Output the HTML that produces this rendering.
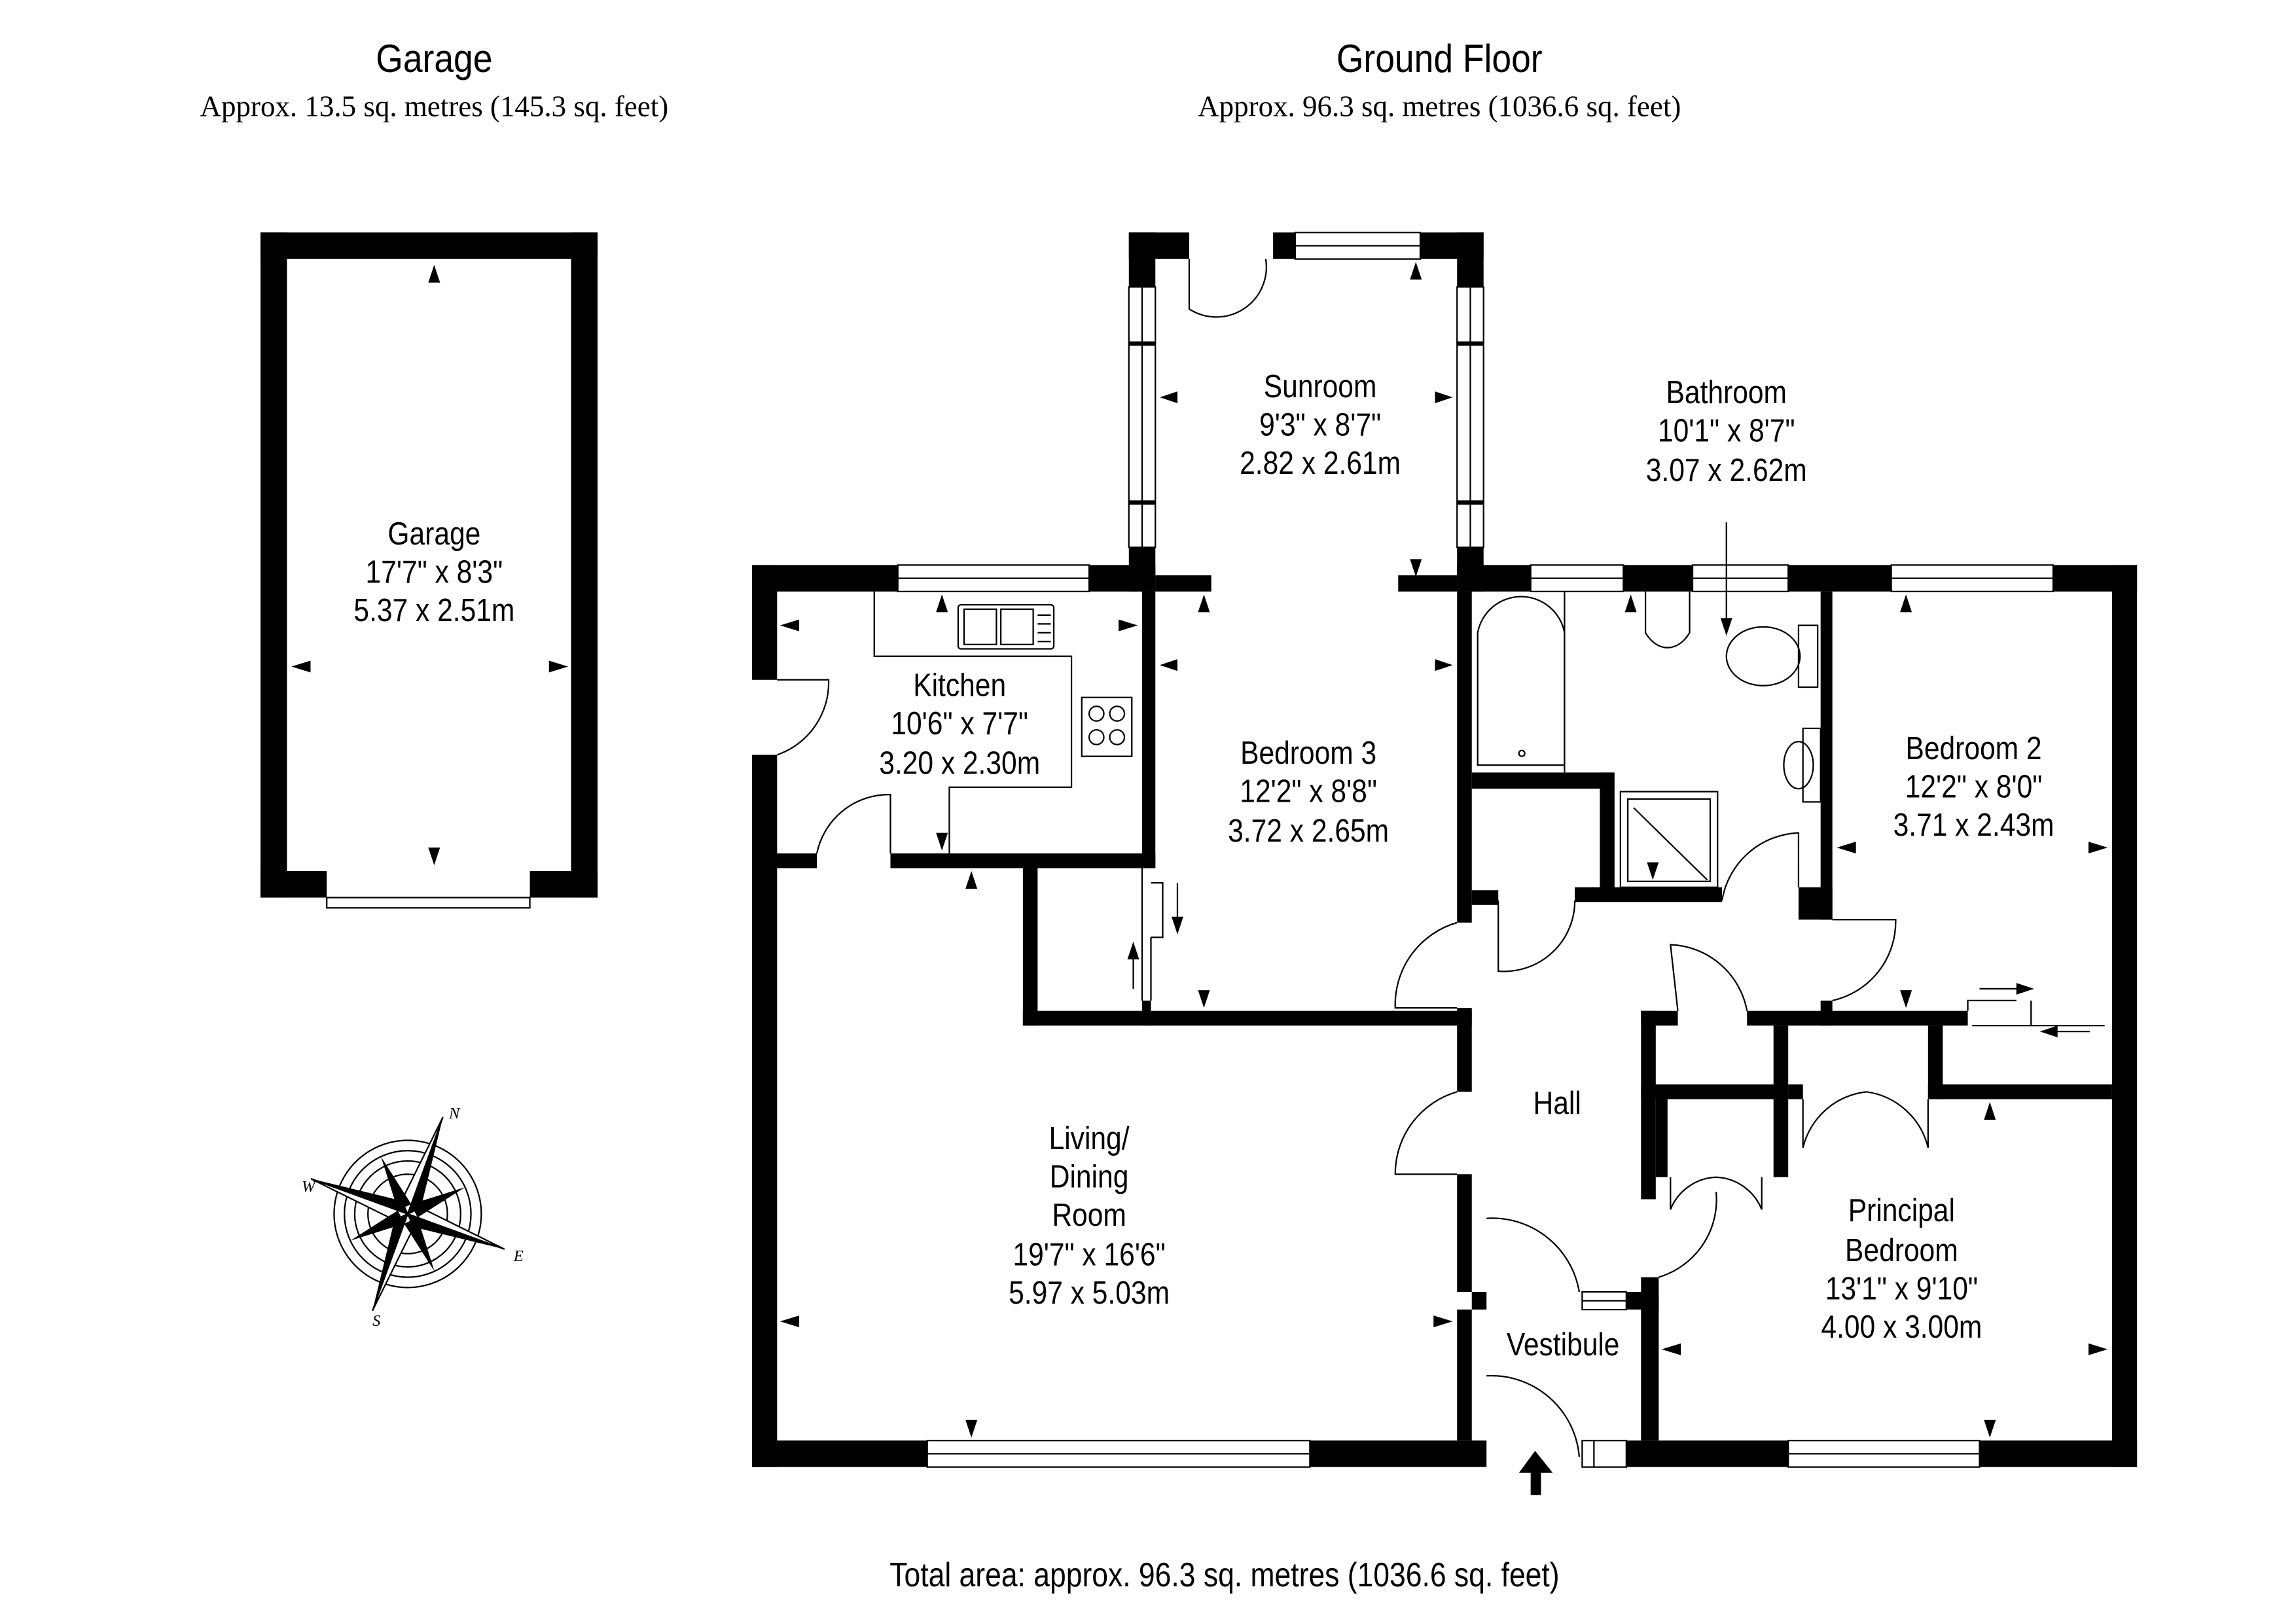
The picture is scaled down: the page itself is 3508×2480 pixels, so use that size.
<!DOCTYPE html>
<html><head><meta charset="utf-8"><style>
html,body{margin:0;padding:0;background:#fff;}
svg{display:block;}
.t{font-family:"Liberation Sans",sans-serif;font-size:22px;fill:#000;text-anchor:middle;}
.s{font-family:"Liberation Serif",serif;font-size:20px;fill:#000;text-anchor:middle;}
.h{font-family:"Liberation Sans",sans-serif;font-size:27px;fill:#000;text-anchor:middle;}
.l{fill:none;stroke:#000;stroke-width:1;}
</style></head><body>
<svg width="3508" height="2480" viewBox="0 0 1560 1103" preserveAspectRatio="none" xmlns="http://www.w3.org/2000/svg">
<rect width="1560" height="1103" fill="#fff"/>
<!-- titles -->
<text class="h" transform="translate(295,49) scale(0.88,1)">Garage</text>
<text class="s" x="295" y="79">Approx. 13.5 sq. metres (145.3 sq. feet)</text>
<text class="h" transform="translate(978,49) scale(0.88,1)">Ground Floor</text>
<text class="s" x="978" y="79">Approx. 96.3 sq. metres (1036.6 sq. feet)</text>
<text class="t" transform="translate(832,1078) scale(0.86,1)" style="font-size:23px">Total area: approx. 96.3 sq. metres (1036.6 sq. feet)</text>

<!-- GARAGE -->
<g fill="#000">
<rect x="177" y="158" width="229" height="18"/>
<rect x="177" y="158" width="18" height="452"/>
<rect x="388" y="158" width="18" height="452"/>
<rect x="177" y="592" width="45" height="18"/>
<rect x="360" y="592" width="46" height="18"/>
</g>
<rect class="l" x="222" y="610" width="138" height="7"/>
<g class="t">
<text transform="translate(295,370) scale(0.86,1)">Garage</text>
<text transform="translate(295,396) scale(0.86,1)">17'7" x 8'3"</text>
<text transform="translate(295,422) scale(0.86,1)">5.37 x 2.51m</text>
</g>
<g fill="#000">
<polygon points="295,180 291,192 299,192"/>
<polygon points="295,588 291,576 299,576"/>
<polygon points="198,453 211,449 211,457"/>
<polygon points="386,453 373,449 373,457"/>
</g>

<!-- MAIN WALLS -->
<g fill="#000">
<rect x="511" y="384" width="17" height="78"/>
<rect x="511" y="513" width="17" height="484"/>
<rect x="511" y="384" width="99" height="18"/>
<rect x="740" y="384" width="45" height="18"/>
<rect x="785" y="391" width="38" height="11"/>
<rect x="950" y="391" width="40" height="11"/>
<rect x="990" y="384" width="50" height="18"/>
<rect x="1103" y="384" width="47" height="18"/>
<rect x="1215" y="384" width="70" height="18"/>
<rect x="1395" y="384" width="57" height="18"/>
<rect x="1435" y="384" width="17" height="613"/>
<rect x="511" y="979" width="119" height="18"/>
<rect x="890" y="979" width="120" height="18"/>
<rect x="1105" y="979" width="110" height="18"/>
<rect x="1345" y="979" width="107" height="18"/>
<rect x="767" y="158" width="41" height="18"/>
<rect x="767" y="158" width="18" height="37"/>
<rect x="767" y="372" width="18" height="30"/>
<rect x="865" y="158" width="15" height="18"/>
<rect x="965" y="158" width="43" height="18"/>
<rect x="990" y="158" width="18" height="37"/>
<rect x="990" y="372" width="18" height="30"/>
<rect x="767" y="232" width="18" height="3"/><rect x="990" y="232" width="18" height="3"/>
<rect x="767" y="340" width="18" height="3"/><rect x="990" y="340" width="18" height="3"/>
<rect x="776" y="402" width="9" height="188"/>
<rect x="511" y="580" width="44" height="10"/>
<rect x="605" y="580" width="180" height="10"/>
<rect x="695" y="590" width="10" height="107"/>
<rect x="776" y="680" width="6" height="17"/>
<rect x="695" y="687" width="305" height="10"/>
<rect x="990" y="402" width="10" height="225"/>
<rect x="1000" y="605" width="18" height="10"/>
<rect x="990" y="685" width="10" height="57"/>
<rect x="990" y="798" width="10" height="80"/>
<rect x="1000" y="878" width="10" height="12"/>
<rect x="990" y="890" width="10" height="89"/>
<rect x="1000" y="525" width="95" height="11"/>
<rect x="1087" y="525" width="10" height="87"/>
<rect x="1070" y="603" width="100" height="10"/>
<rect x="1237" y="402" width="8" height="223"/>
<rect x="1222" y="603" width="23" height="22"/>
<rect x="1237" y="680" width="8" height="17"/>
<rect x="1115" y="687" width="25" height="10"/>
<rect x="1187" y="687" width="150" height="10"/>
<rect x="1115" y="687" width="10" height="128"/>
<rect x="1115" y="737" width="100" height="10"/>
<rect x="1205" y="697" width="10" height="103"/>
<rect x="1310" y="697" width="10" height="50"/>
<rect x="1310" y="737" width="125" height="10"/>
<rect x="1215" y="737" width="10" height="10"/>
<rect x="1125" y="747" width="8" height="53"/>
<rect x="1115" y="868" width="12" height="111"/>
<rect x="1105" y="878" width="22" height="12"/>
<rect x="1040" y="1000" width="7" height="16"/>
<polygon points="1043,986 1032,1001 1055,1001"/>
</g>

<!-- windows / lines -->
<g class="l">
<rect x="610" y="384" width="130" height="18"/><line x1="610" y1="393" x2="740" y2="393"/>
<rect x="880" y="158" width="85" height="18"/><line x1="880" y1="167" x2="965" y2="167"/>
<rect x="767" y="195" width="18" height="177"/><line x1="776" y1="195" x2="776" y2="372"/>
<rect x="990" y="195" width="18" height="177"/><line x1="999" y1="195" x2="999" y2="372"/>
<rect x="1040" y="384" width="63" height="18"/><line x1="1040" y1="393" x2="1103" y2="393"/>
<rect x="1150" y="384" width="65" height="18"/><line x1="1150" y1="393" x2="1215" y2="393"/>
<rect x="1285" y="384" width="110" height="18"/><line x1="1285" y1="393" x2="1395" y2="393"/>
<rect x="630" y="979" width="260" height="18"/><line x1="630" y1="988" x2="890" y2="988"/>
<rect x="1215" y="979" width="130" height="18"/><line x1="1215" y1="988" x2="1345" y2="988"/>
<rect x="1075" y="979" width="30" height="18"/><line x1="1083" y1="979" x2="1083" y2="997"/>
<rect x="1075" y="878" width="30" height="12"/><line x1="1075" y1="884" x2="1105" y2="884"/>
<!-- doors -->
<path d="M808 176 L808 210 A34 34 0 0 0 860 176"/>
<path d="M528 462 L563 462 A52 52 0 0 1 528 513"/>
<path d="M555 580 A50 50 0 0 1 605 540 L605 580"/>
<path d="M990 627 A58 58 0 0 0 948 685 L990 685"/>
<path d="M1018 612 L1018 660 A48 48 0 0 0 1070 612"/>
<path d="M1170 612 A55 55 0 0 1 1222 566 L1222 603"/>
<path d="M1245 625 L1288 625 A55 55 0 0 1 1245 680"/>
<path d="M990 742 A58 58 0 0 0 948 798 L990 798"/>
<path d="M1140 687 L1135 642 A55 55 0 0 1 1187 687"/>
<path d="M1225 747 L1225 780 A50 50 0 0 1 1268 742 M1310 747 L1310 780 A50 50 0 0 0 1268 742"/>
<path d="M1135 800 L1135 822 A35 35 0 0 1 1166 800 M1197 800 L1197 822 A35 35 0 0 0 1166 800"/>
<path d="M1127 868 A55 55 0 0 0 1166 810"/>
<path d="M1010 828 A60 60 0 0 1 1073 878"/>
<path d="M1010 935 A60 60 0 0 1 1073 990"/>
<path d="M782 600 L790 600 L790 637 L782 637 M782 637 L782 680"/>
<line x1="776" y1="590" x2="776" y2="680"/>
<path d="M594 402 L594 446 L728 446 L728 535 L645 535 L645 580"/>
<rect x="651" y="411" width="65" height="30" rx="2"/>
<rect x="655" y="414" width="22" height="24"/><rect x="680" y="414" width="22" height="24"/>
<line x1="705" y1="418" x2="714" y2="418"/><line x1="705" y1="424" x2="714" y2="424"/><line x1="705" y1="430" x2="714" y2="430"/><line x1="705" y1="436" x2="714" y2="436"/>
<rect x="735" y="474" width="34" height="40"/>
<circle cx="745" cy="485" r="5"/><circle cx="759" cy="485" r="5"/><circle cx="745" cy="501" r="5"/><circle cx="759" cy="501" r="5"/>
<path d="M1004 520 L1004 430 A30 30 0 0 1 1063 430 L1063 520 Z"/>
<line x1="1063" y1="402" x2="1063" y2="525"/>
<circle cx="1034" cy="512" r="2"/>
<path d="M1118 402 L1118 430 A20 30 0 0 0 1148 430 L1148 402"/>
<rect x="1222" y="425" width="13" height="42"/>
<ellipse cx="1198" cy="446" rx="25" ry="20"/>
<rect x="1225" y="495" width="12" height="50"/>
<ellipse cx="1222" cy="520" rx="10" ry="16"/>
<rect x="1101" y="538" width="66" height="65"/><rect x="1106" y="543" width="56" height="56"/>
<line x1="1110" y1="549" x2="1160" y2="598"/>
<path d="M1337 687 L1337 680 L1370 680 M1380 697 L1380 680 M1340 697 L1430 697"/>
</g>

<!-- arrows -->
<g fill="#000">
<polygon points="788,270 800,266 800,274"/><polygon points="987,270 975,266 975,274"/>
<polygon points="962,178 958,190 966,190"/><polygon points="962,392 958,380 966,380"/>
<polygon points="530,425 543,421 543,429"/><polygon points="773,425 760,421 760,429"/>
<polygon points="640,404 636,416 644,416"/><polygon points="640,578 636,566 644,566"/>
<polygon points="788,452 800,448 800,456"/><polygon points="987,452 975,448 975,456"/>
<polygon points="818,404 814,416 822,416"/><polygon points="818,685 814,673 822,673"/>
<polygon points="660,592 656,604 664,604"/>
<polygon points="1108,404 1104,416 1112,416"/><polygon points="1123,598 1119,586 1127,586"/>
<polygon points="1295,404 1291,416 1299,416"/><polygon points="1295,685 1291,673 1299,673"/>
<polygon points="1248,576 1261,572 1261,580"/><polygon points="1432,576 1419,572 1419,580"/>
<polygon points="660,977 656,965 664,965"/>
<polygon points="530,898 543,894 543,902"/><polygon points="987,898 974,894 974,902"/>
<polygon points="1129,917 1142,913 1142,921"/><polygon points="1432,917 1419,913 1419,921"/>
<polygon points="1352,749 1348,761 1356,761"/><polygon points="1352,977 1348,965 1356,965"/>
<polygon points="1382,672 1370,668 1370,676"/><polygon points="1386,701 1398,697 1398,705"/>
<polygon points="800,635 796,623 804,623"/><polygon points="770,640 766,652 774,652"/>
<polygon points="1173,432 1169,420 1177,420"/>
</g>
<g class="l"><line x1="1173" y1="355" x2="1173" y2="420"/><line x1="800" y1="600" x2="800" y2="625"/><line x1="770" y1="650" x2="770" y2="672"/><line x1="1345" y1="672" x2="1372" y2="672"/><line x1="1396" y1="701" x2="1420" y2="701"/></g>

<!-- labels -->
<g class="t">
<text transform="translate(897,270) scale(0.86,1)">Sunroom</text>
<text transform="translate(897,296) scale(0.86,1)">9'3" x 8'7"</text>
<text transform="translate(897,322) scale(0.86,1)">2.82 x 2.61m</text>
<text transform="translate(1173,274) scale(0.86,1)">Bathroom</text>
<text transform="translate(1173,300) scale(0.86,1)">10'1" x 8'7"</text>
<text transform="translate(1173,327) scale(0.86,1)">3.07 x 2.62m</text>
<text transform="translate(652,473) scale(0.86,1)">Kitchen</text>
<text transform="translate(652,499) scale(0.86,1)">10'6" x 7'7"</text>
<text transform="translate(652,526) scale(0.86,1)">3.20 x 2.30m</text>
<text transform="translate(889,519) scale(0.86,1)">Bedroom 3</text>
<text transform="translate(889,545) scale(0.86,1)">12'2" x 8'8"</text>
<text transform="translate(889,572) scale(0.86,1)">3.72 x 2.65m</text>
<text transform="translate(1341,516) scale(0.86,1)">Bedroom 2</text>
<text transform="translate(1341,542) scale(0.86,1)">12'2" x 8'0"</text>
<text transform="translate(1341,568) scale(0.86,1)">3.71 x 2.43m</text>
<text transform="translate(1058,757) scale(0.86,1)">Hall</text>
<text transform="translate(740,781) scale(0.86,1)">Living/</text>
<text transform="translate(740,807) scale(0.86,1)">Dining</text>
<text transform="translate(740,833) scale(0.86,1)">Room</text>
<text transform="translate(740,860) scale(0.86,1)">19'7" x 16'6"</text>
<text transform="translate(740,886) scale(0.86,1)">5.97 x 5.03m</text>
<text transform="translate(1292,830) scale(0.86,1)">Principal</text>
<text transform="translate(1292,857) scale(0.86,1)">Bedroom</text>
<text transform="translate(1292,883) scale(0.86,1)">13'1" x 9'10"</text>
<text transform="translate(1292,909) scale(0.86,1)">4.00 x 3.00m</text>
<text transform="translate(1062,921) scale(0.86,1)">Vestibule</text>
</g>

<!-- compass -->
<g transform="translate(277,825)">
<circle r="50" class="l" stroke-width="2"/>
<circle r="43" class="l"/><circle r="36" class="l"/><circle r="27" class="l"/>
<g transform="rotate(20)">
<polygon points="0,-70 7,-7 0,0" fill="#000"/><polygon points="0,-70 -7,-7 0,0" fill="#fff" stroke="#000"/>
<polygon points="0,70 -7,7 0,0" fill="#000"/><polygon points="0,70 7,7 0,0" fill="#fff" stroke="#000"/>
<polygon points="70,0 7,7 0,0" fill="#000"/><polygon points="70,0 7,-7 0,0" fill="#fff" stroke="#000"/>
<polygon points="-70,0 -7,-7 0,0" fill="#000"/><polygon points="-70,0 -7,7 0,0" fill="#fff" stroke="#000"/>
<g transform="rotate(45)">
<polygon points="0,-43 5,-5 -5,-5" fill="#000"/><polygon points="0,43 5,5 -5,5" fill="#000"/>
<polygon points="43,0 5,5 5,-5" fill="#000"/><polygon points="-43,0 -5,5 -5,-5" fill="#000"/>
</g>
</g>
<text x="28" y="-65" style="font-family:'Liberation Serif',serif;font-size:11px;font-style:italic">N</text>
<text x="72" y="32" style="font-family:'Liberation Serif',serif;font-size:11px;font-style:italic">E</text>
<text x="-24" y="76" style="font-family:'Liberation Serif',serif;font-size:11px;font-style:italic">S</text>
<text x="-72" y="-15" style="font-family:'Liberation Serif',serif;font-size:11px;font-style:italic">W</text>
</g>
</svg>
</body></html>
